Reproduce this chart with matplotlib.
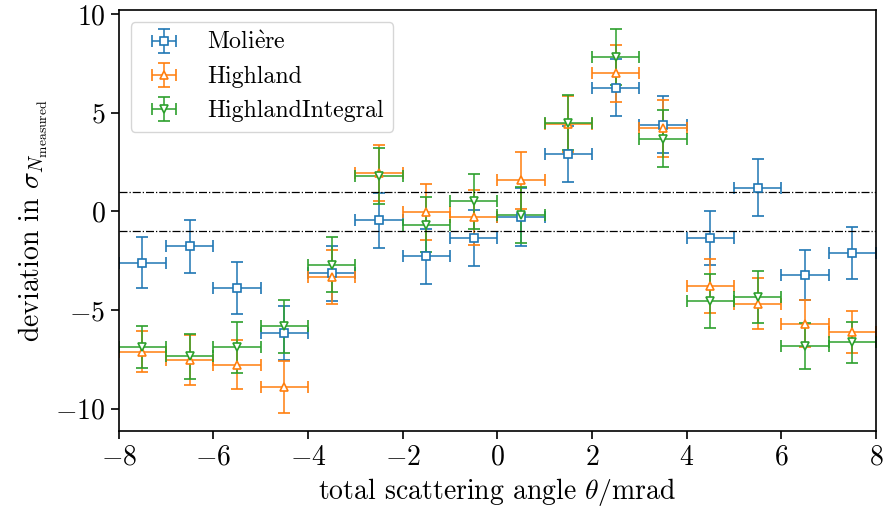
import matplotlib
matplotlib.use('Agg')
import matplotlib.pyplot as plt
import numpy as np

plt.rcParams['font.family'] = ['cmr10', 'DejaVu Serif']
plt.rcParams['mathtext.fontset'] = 'cm'
plt.rcParams['axes.formatter.use_mathtext'] = True
plt.rcParams['axes.unicode_minus'] = True

# --- data ---
angle = [-7.5, -6.5, -5.5, -4.5, -3.5, -2.5, -1.5, -0.5,
         0.5, 1.5, 2.5, 3.5, 4.5, 5.5, 6.5, 7.5]
angle_err = [0.5] * 16

moliere = [-2.60, -1.78, -3.89, -6.16, -3.14, -0.45, -2.28, -1.35,
           -0.29, 2.91, 6.26, 4.40, -1.37, 1.20, -3.25, -2.10]
moliere_err = [1.30, 1.36, 1.32, 1.36, 1.40, 1.40, 1.40, 1.40,
               1.47, 1.42, 1.45, 1.45, 1.37, 1.45, 1.27, 1.31]

highland = [-7.12, -7.52, -7.77, -8.90, -3.33, 1.95, -0.04, -0.31,
            1.57, 4.42, 7.00, 4.21, -3.80, -4.68, -5.70, -6.13]
highland_err = [1.04, 1.27, 1.25, 1.31, 1.39, 1.42, 1.41, 1.40,
                1.44, 1.42, 1.45, 1.45, 1.36, 1.31, 1.18, 1.08]

highland_int = [-6.88, -7.35, -6.90, -5.83, -2.70, 1.80, -0.68, 0.51,
                -0.20, 4.50, 7.83, 3.69, -4.55, -4.36, -6.83, -6.65]
highland_int_err = [1.06, 1.14, 1.28, 1.35, 1.40, 1.43, 1.40, 1.39,
                    1.41, 1.38, 1.41, 1.44, 1.35, 1.31, 1.15, 1.04]

series = [(r'Moli$\grave{\mathrm{e}}$re', moliere, moliere_err, 's', 'C0'),
          ('Highland', highland, highland_err, '^', 'C1'),
          ('HighlandIntegral', highland_int, highland_int_err, 'v', 'C2')]

fig = plt.figure(figsize=(8.86, 5.17), dpi=100)
ax = fig.add_axes([0.134, 0.166, 0.8547, 0.815])

for name, vals, errs, mk, col in series:
    ax.errorbar(angle, vals, xerr=angle_err, yerr=errs, fmt=mk, color=col,
                markerfacecolor='white', markeredgecolor=col, markersize=6,
                markeredgewidth=1.2, elinewidth=1.1, capsize=4, capthick=1.1,
                label=name)

ax.axhline(1, color='k', ls='-.', lw=0.9)
ax.axhline(-1, color='k', ls='-.', lw=0.9)

ax.set_xlim(-8, 8)
ax.set_ylim(-11.15, 10.22)
ax.set_xticks(np.arange(-8, 9, 2))
ax.set_yticks([-10, -5, 0, 5, 10])
ax.tick_params(labelsize=20, length=6, width=1.2)
for s in ax.spines.values():
    s.set_linewidth(1.2)

ax.set_xlabel(r'total scattering angle $\theta/\mathrm{mrad}$', fontsize=20)
ax.set_ylabel(r'deviation in $\sigma_{N_\mathrm{measured}}$', fontsize=20)
ax.legend(loc='upper left', fontsize=17.2)

plt.savefig('out.png', dpi=100)
